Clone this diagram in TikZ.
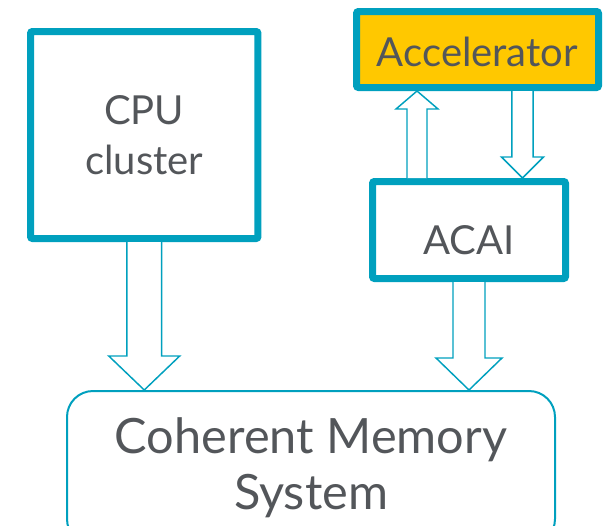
\documentclass[tikz,border=0pt]{standalone}
\usepackage{fontspec}
\setmainfont{Lato}
\usetikzlibrary{calc}
\definecolor{armteal}{RGB}{0,160,190}
\definecolor{accgold}{RGB}{255,200,0}
\definecolor{txtgray}{RGB}{83,86,90}

\tikzset{
  unit/.style={draw=armteal, line width=5.25pt, rounded corners=1.5pt, text=txtgray, align=center, inner sep=0pt, font=\fontsize{30}{37}\selectfont},
  flow/.style={draw=armteal, fill=white, line width=1.1pt, line join=miter},
}
% #1 tail, #2 tip, #3 half shaft, #4 half head, #5 head length
\newcommand{\blockarrow}[5]{%
  \path ($(#2)!#5!(#1)$) coordinate (hb);
  \draw[flow] ($(#1)!#3!90:(#2)$) -- ($(hb)!#3!90:(#2)$) -- ($(hb)!#4!90:(#2)$) -- (#2) -- ($(hb)!#4!-90:(#2)$) -- ($(hb)!#3!-90:(#2)$) -- ($(#1)!#3!-90:(#2)$);
}

\begin{document}
\begin{tikzpicture}[x=0.75pt,y=0.75pt,yscale=-1,xscale=1]
\useasboundingbox (0,0) rectangle (610,525);
\clip (0,0) rectangle (610,525);

%Shape: Rounded Rect
\node [draw=armteal, line width=1.5pt, rounded corners=19.5pt, minimum width=366pt, minimum height=115.5pt, text=txtgray, align=center, inner sep=0pt, font=\fontsize{36.5}{42}\selectfont] (mem) at (311,468) {Coherent Memory\\System};
%Shape: Rectangle
\node [unit, minimum width=170.6pt, minimum height=155.25pt] (cpu) at (144.25,135) {CPU\\cluster};
%Shape: Rectangle
\node [unit, fill=accgold, minimum width=181.5pt, minimum height=57pt] (accel) at (477.5,49.5) {\raisebox{-1.5pt}[\height][0pt]{Accelerator}};
%Shape: Rectangle
\node [unit, minimum width=144.75pt, minimum height=72.75pt] (acai) at (469,230) {\raisebox{-7.5pt}[\height][0pt]{ACAI}};

\coordinate (cpuhit) at (cpu.south |- mem.north);
\coordinate (acaihit) at (acai.south |- mem.north);
\coordinate (upin) at ($(acai.north)+(-52,0)$);
\coordinate (upout) at (upin |- accel.south);
\coordinate (dnin) at ($(accel.south)+(45,0)$);
\coordinate (dnout) at (dnin |- acai.north);

%Block Arrows
\blockarrow{cpu.south}{cpuhit}{13.1pt}{26.6pt}{25.5pt}
\blockarrow{acai.south}{acaihit}{12pt}{24.75pt}{24pt}
\blockarrow{upin}{upout}{7.5pt}{15.75pt}{13.5pt}
\blockarrow{dnin}{dnout}{7.9pt}{15.75pt}{15.75pt}
\end{tikzpicture}
\end{document}
